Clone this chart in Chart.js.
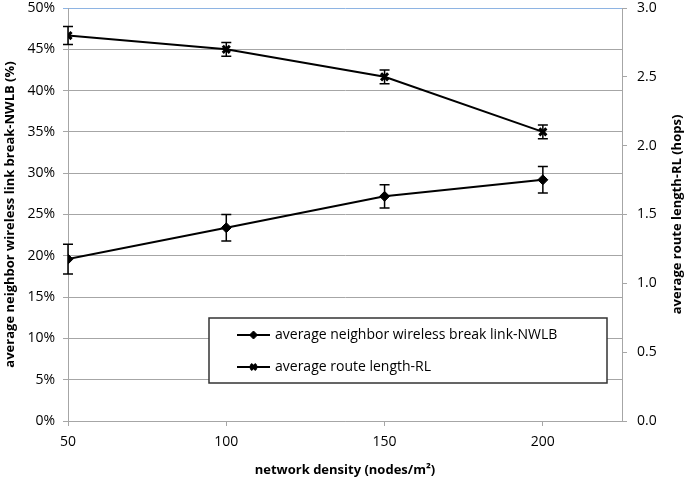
<!DOCTYPE html>
<html>
<head>
<meta charset="utf-8">
<script src="https://cdn.jsdelivr.net/npm/chart.js@4.4.1/dist/chart.umd.min.js"></script>
<style>
  html, body { margin: 0; padding: 0; background: #fff; }
  #wrap { width: 685px; height: 478px; position: relative; }
</style>
</head>
<body>
<div id="wrap"><canvas id="chart"></canvas></div>
<script>
// === data ===
const DENSITY = [50, 100, 150, 200];
const X_TICKS = [50, 100, 150, 200];

// neighbor wireless link break, percent (left axis)
const NWLB = [19.6, 23.4, 27.2, 29.2];
const NWLB_ERR = [1.8, 1.6, 1.4, 1.6];

// route length, hops (right axis)
const RL = [2.80, 2.70, 2.50, 2.10];
const RL_ERR = [0.065, 0.05, 0.05, 0.05];

const RIGHT_TITLE = "average route length-RL (hops)";

const FONT = "'Open Sans', 'Noto Sans', sans-serif";
const GRID = "#a6a6a6";

// error bars, drawn with the same scales as the lines
const errorBars = {
  id: "errorBars",
  afterDatasetsDraw(chart) {
    const ctx = chart.ctx;
    const x = chart.scales.x;
    ctx.save();
    ctx.strokeStyle = "#000";
    ctx.lineWidth = 1.5;
    chart.data.datasets.forEach(ds => {
      const y = chart.scales[ds.yAxisID];
      ds.data.forEach((p, i) => {
        const px = x.getPixelForValue(p.x);
        const top = y.getPixelForValue(p.y + ds.err[i]);
        const bot = y.getPixelForValue(p.y - ds.err[i]);
        ctx.beginPath();
        ctx.moveTo(px, top); ctx.lineTo(px, bot);
        ctx.moveTo(px - 5, top); ctx.lineTo(px + 5, top);
        ctx.moveTo(px - 5, bot); ctx.lineTo(px + 5, bot);
        ctx.stroke();
      });
    });
    ctx.restore();
  }
};

// right axis title reads bottom-to-top in the original, so draw it here
const rightTitle = {
  id: "rightTitle",
  afterDraw(chart) {
    const ctx = chart.ctx;
    const a = chart.chartArea;
    ctx.save();
    ctx.translate(677, (a.top + a.bottom) / 2);
    ctx.rotate(-Math.PI / 2);
    ctx.font = "bold 13px " + FONT;
    ctx.fillStyle = "#000";
    ctx.textAlign = "center";
    ctx.textBaseline = "middle";
    ctx.fillText(RIGHT_TITLE, 0, 0);
    ctx.restore();
  }
};

// boxed legend inside the plot area, like the original
const boxLegend = {
  id: "boxLegend",
  afterDraw(chart) {
    const ctx = chart.ctx;
    const bx = 209, by = 318, bw = 398, bh = 65;
    ctx.save();
    ctx.fillStyle = "#fff";
    ctx.fillRect(bx, by, bw, bh);
    ctx.strokeStyle = "#333";
    ctx.lineWidth = 1.5;
    ctx.strokeRect(bx, by, bw, bh);
    ctx.font = "14px " + FONT;
    ctx.textBaseline = "middle";
    chart.data.datasets.forEach((ds, i) => {
      const ly = by + 17 + i * 32;
      ctx.strokeStyle = "#000";
      ctx.fillStyle = "#000";
      ctx.lineWidth = 2;
      ctx.beginPath();
      ctx.moveTo(bx + 28, ly); ctx.lineTo(bx + 61, ly);
      ctx.stroke();
      ctx.lineWidth = ds.pointBorderWidth;
      Chart.helpers.drawPoint(ctx, {
        pointStyle: ds.pointStyle, radius: ds.pointRadius - 1,
        borderWidth: ds.pointBorderWidth, rotation: 0
      }, bx + 44.5, ly);
      ctx.fillText(ds.label, bx + 66, ly);
    });
    ctx.restore();
  }
};

const pts = (xs, ys) => xs.map((v, i) => ({ x: v, y: ys[i] }));
const noPad = s => { s.paddingTop = 0; s.paddingBottom = 0; };

new Chart(document.getElementById("chart"), {
  type: "line",
  data: {
    datasets: [
      {
        label: "average neighbor wireless break link-NWLB",
        data: pts(DENSITY, NWLB),
        err: NWLB_ERR,
        yAxisID: "y",
        borderColor: "#000",
        backgroundColor: "#000",
        borderWidth: 2,
        pointStyle: "rectRot",
        pointRadius: 5,
        pointBorderWidth: 1,
        tension: 0,
      },
      {
        label: "average route length-RL",
        data: pts(DENSITY, RL),
        err: RL_ERR,
        yAxisID: "y2",
        borderColor: "#000",
        backgroundColor: "#000",
        borderWidth: 2,
        pointStyle: "crossRot",
        pointRadius: 5,
        pointBorderWidth: 3,
        tension: 0,
      },
    ],
  },
  options: {
    responsive: true,
    maintainAspectRatio: false,
    animation: false,
    layout: { padding: { top: 6, left: 0, right: 0, bottom: 0 } },
    plugins: {
      legend: { display: false },
      tooltip: { enabled: false },
    },
    scales: {
      x: {
        type: "linear",
        min: 50,
        max: 225,
        afterBuildTicks: s => { s.ticks = X_TICKS.map(v => ({ value: v })); },
        afterFit: s => { s.height = 57; s.paddingLeft = 0; s.paddingRight = 0; },
        border: { color: GRID, width: 1 },
        grid: { drawOnChartArea: false, color: GRID, tickLength: 5 },
        ticks: { color: "#000", font: { family: FONT, size: 14 }, padding: 8 },
        title: {
          display: true,
          text: "network density (nodes/m²)",
          color: "#000",
          font: { family: FONT, size: 13, weight: "bold" },
          padding: { top: 1, bottom: 0 },
        },
      },
      y: {
        position: "left",
        min: 0,
        max: 50,
        afterFit: s => { s.width = 68; noPad(s); },
        border: { color: GRID, width: 1 },
        grid: {
          color: ctx => (ctx.tick && ctx.tick.value === 50 ? "#8eb4e3" : GRID),
          lineWidth: 1,
          tickLength: 5,
        },
        ticks: {
          stepSize: 5,
          color: "#000",
          font: { family: FONT, size: 14 },
          padding: 8,
          callback: v => v + "%",
        },
        title: {
          display: true,
          text: "average neighbor wireless link break-NWLB (%)",
          color: "#000",
          font: { family: FONT, size: 13, weight: "bold" },
          padding: { top: 2, bottom: 0 },
        },
      },
      y2: {
        position: "right",
        min: 0,
        max: 3,
        afterFit: s => { s.width = 63; noPad(s); },
        border: { color: GRID, width: 1 },
        grid: { drawOnChartArea: false, color: GRID, tickLength: 5 },
        ticks: {
          stepSize: 0.5,
          color: "#000",
          font: { family: FONT, size: 14 },
          padding: 10,
          callback: v => v.toFixed(1),
        },
      },
    },
  },
  plugins: [errorBars, boxLegend, rightTitle],
});
</script>
</body>
</html>
